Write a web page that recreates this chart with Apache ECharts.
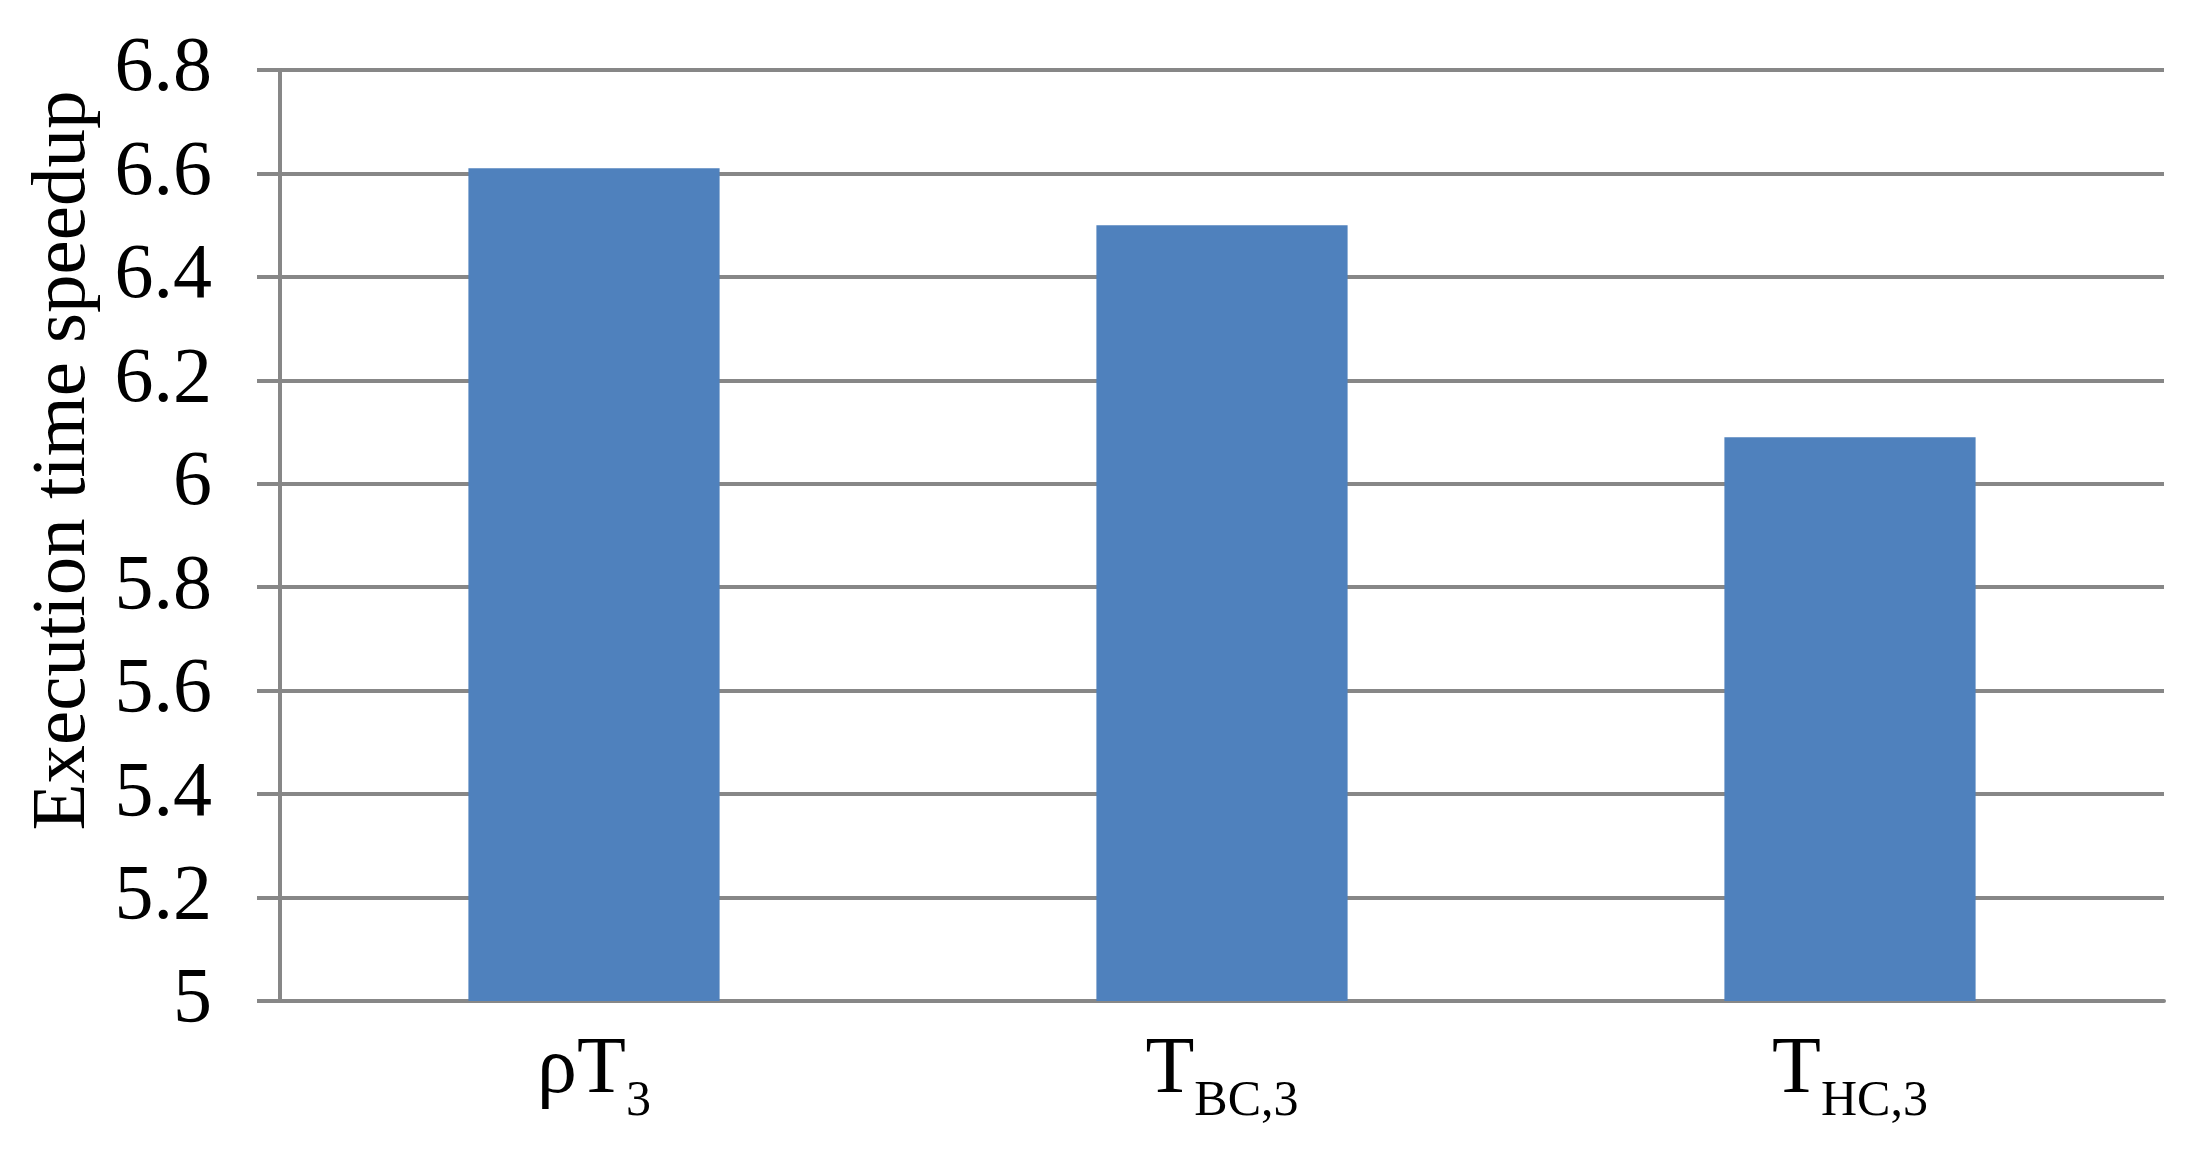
<!DOCTYPE html>
<html>
<head>
<meta charset="utf-8">
<script src="https://cdn.jsdelivr.net/npm/echarts@6/dist/echarts.min.js"></script>
<style>
  html, body { margin: 0; padding: 0; background: #fff; }
  #chart { width: 2196px; height: 1149px; }
</style>
</head>
<body>
<div id="chart"></div>
<script>
// categories written as rich text (main letter + subscript)
var categories = ['{m|ρT}{s|3}', '{m|T}{s|BC,3}', '{m|T}{s|HC,3}'];
var speedup = [6.61, 6.50, 6.09];
var yName = 'Execution time speedup';

var myChart = echarts.init(document.getElementById('chart'));
var gray = '#878787';
var serif = '"Liberation Serif", "DejaVu Serif", serif';

myChart.setOption({
    animation: false,
    grid: { left: 280, right: 32, top: 70, bottom: 148 },
    xAxis: {
        type: 'category',
        data: categories,
        axisLine: { lineStyle: { color: gray, width: 4 } },
        axisTick: { show: false },
        axisLabel: {
            margin: 30,
            color: '#000',
            rich: {
                m: { fontFamily: serif, fontSize: 80, color: '#000', verticalAlign: 'bottom' },
                s: { fontFamily: serif, fontSize: 50, color: '#000', verticalAlign: 'bottom', padding: [0, 0, -16, 0] }
            }
        }
    },
    yAxis: {
        type: 'value',
        min: 5,
        max: 6.8,
        interval: 0.2,
        name: yName,
        nameLocation: 'middle',
        nameRotate: 90,
        nameGap: 178,
        nameTextStyle: { fontFamily: serif, fontSize: 77, color: '#000', padding: [0, 0, 0, 150] },
        axisLine: { show: true, lineStyle: { color: gray, width: 4 } },
        axisTick: { show: true, length: 23, lineStyle: { color: gray, width: 4 } },
        splitLine: { lineStyle: { color: gray, width: 4 } },
        axisLabel: {
            margin: 68,
            fontFamily: serif,
            fontSize: 78,
            color: '#000',
            formatter: function (v) { return String(Math.round(v * 10) / 10); }
        }
    },
    series: [{
        type: 'bar',
        data: speedup,
        barWidth: '40%',
        itemStyle: { color: '#4F81BD' }
    }]
});
</script>
</body>
</html>
